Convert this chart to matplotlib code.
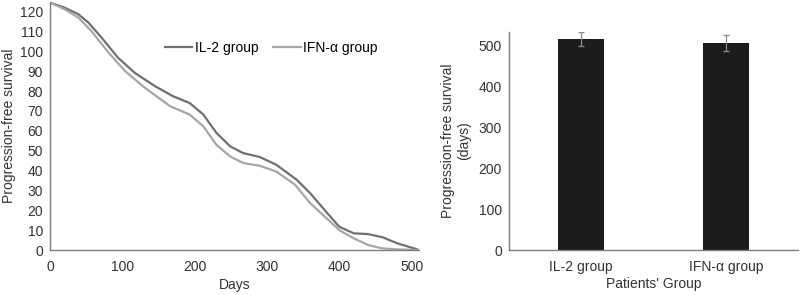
import matplotlib
matplotlib.use("Agg")
from matplotlib import pyplot as plt

plt.rcParams['font.family'] = ['Liberation Sans', 'DejaVu Sans']
plt.rcParams['font.size'] = 10

# survival curves
il2_days = [0, 20, 39, 53, 71, 94, 117, 145, 170, 193, 212, 230, 249, 267, 290,
            313, 341, 360, 380, 400, 420, 440, 460, 480, 508]
il2 = [124.5, 122, 118.7, 114.5, 107, 96.8, 89.2, 82.5, 77.4, 74, 68.2, 59, 52.2, 48.8, 46.8,
       42.9, 35.4, 28.5, 20, 11.7, 8.4, 8, 6.4, 3.4, 0.3]
ifn_days = [0, 21, 39, 57, 81, 104, 131, 166, 193, 212, 230, 249, 267, 290,
            313, 339, 360, 380, 400, 420, 440, 460, 480, 508]
ifn = [124.5, 121, 117, 110.3, 99.3, 90, 81.7, 72.4, 68.2, 62.3, 53, 47.1, 43.8, 42.4,
       39.5, 32.8, 23.5, 16.8, 10, 5.9, 2.5, 0.8, 0.3, 0]

# bar chart
groups = ['IL-2 group', 'IFN-\u03b1 group']
pfs_mean = [517, 507]
pfs_err = [18, 20]

spine_col = '#7f7f7f'
fig = plt.figure(figsize=(8, 2.95), dpi=100)

ax1 = fig.add_axes([0.0625, 0.1525, 0.461, 0.842])
ax1.plot(il2_days, il2, color='#707070', lw=1.6, label='IL-2 group')
ax1.plot(ifn_days, ifn, color='#a6a6a6', lw=1.6, label='IFN-\u03b1 group')
ax1.set_xlim(0, 510)
ax1.set_ylim(0, 125)
ax1.set_xticks(range(0, 501, 100))
ax1.set_yticks(range(0, 121, 10))
ax1.set_xlabel('Days', labelpad=3)
ax1.set_ylabel('Progression-free survival', labelpad=3)
ax1.legend(loc='center', bbox_to_anchor=(0.6, 0.815), ncol=2, frameon=False,
           handlelength=2.0, handletextpad=0.2, columnspacing=1.0, fontsize=10)

ax2 = fig.add_axes([0.636, 0.1525, 0.362, 0.74])
ax2.bar(range(len(groups)), pfs_mean, width=0.32, color='#1c1c1c',
        yerr=pfs_err, ecolor='#8c8c8c', capsize=2.5, error_kw={'elinewidth': 0.9})
ax2.set_xlim(-0.5, 1.5)
ax2.set_ylim(0, 535)
ax2.set_xticks(range(len(groups)))
ax2.set_xticklabels(groups)
ax2.set_yticks(range(0, 501, 100))
ax2.set_xlabel("Patients' Group", labelpad=2)
ax2.set_ylabel('Progression-free survival\n(days)', labelpad=5)

for ax in (ax1, ax2):
    for s in ('top', 'right'):
        ax.spines[s].set_visible(False)
    for s in ('left', 'bottom'):
        ax.spines[s].set_color(spine_col)
        ax.spines[s].set_linewidth(1.0)
    ax.tick_params(length=0, colors='#333333', labelsize=10)
    ax.tick_params(axis='x', pad=7)
    ax.tick_params(axis='y', pad=5)
    ax.xaxis.label.set_color('#333333')
    ax.yaxis.label.set_color('#333333')

fig.savefig('out.png', dpi=100)
